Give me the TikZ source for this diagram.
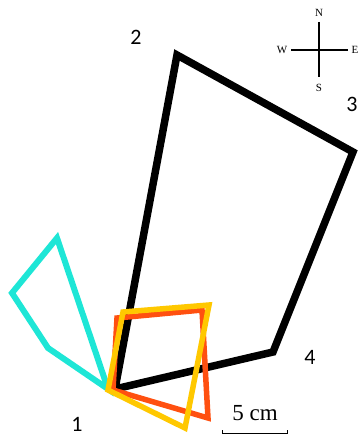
\documentclass[tikz,border=0pt]{standalone}
\usepackage{fontspec}
\setmainfont{Liberation Serif}
\newfontfamily\labelfont{Carlito}
\usetikzlibrary{arrows.meta}

\begin{document}
\begin{tikzpicture}[x=1pt,y=-1pt]
\useasboundingbox (0,0) rectangle (360,436);
% corner points
\coordinate (p1) at (115,389);
\coordinate (p2) at (177,55);
\coordinate (p3) at (353,152);
\coordinate (p4) at (273,352);
% outlines
\draw[line width=6pt, color={rgb,255:red,30;green,230;blue,214}] (57,238) -- (12,293) -- (48,348) -- (108,389) -- cycle;
\draw[line width=7.5pt, black] (p1) -- (p2) -- (p3) -- (p4) -- cycle;
\draw[line width=5.5pt, color={rgb,255:red,255;green,80;blue,16}] (117,318) -- (202,310) -- (208,418) -- (113,390) -- cycle;
\draw[line width=5.5pt, color={rgb,255:red,255;green,200;blue,0}] (123,312) -- (209,305) -- (185,428) -- (108,390) -- cycle;
% labels
\node[font=\labelfont\fontsize{22}{24}\selectfont] (n1) at (77,424) {1};
\node[font=\labelfont\fontsize{22}{24}\selectfont] (n2) at (136,37) {2};
\node[font=\labelfont\fontsize{22}{24}\selectfont] (n3) at (352,104) {3};
\node[font=\labelfont\fontsize{22}{24}\selectfont] (n4) at (310,357) {4};
% compass
\coordinate (c) at (319,50);
\draw[line width=1.2pt] (319,22) -- (319,77);
\draw[line width=1.2pt] (291,50) -- (348,50);
\node[font=\fontsize{11}{13}\selectfont] (cn) at (319,13) {N};
\node[font=\fontsize{11}{13}\selectfont] (cs) at (319,88) {S};
\node[font=\fontsize{11}{13}\selectfont] (cw) at (282,50) {W};
\node[font=\fontsize{11}{13}\selectfont] (ce) at (355,50) {E};
% scale bar
\node[font=\fontsize{23}{25}\selectfont] (sc) at (255,413) {5 cm};
\draw[line width=0.8pt] (222,430) -- (222,433) -- (287,433) -- (287,430);
\end{tikzpicture}
\end{document}
